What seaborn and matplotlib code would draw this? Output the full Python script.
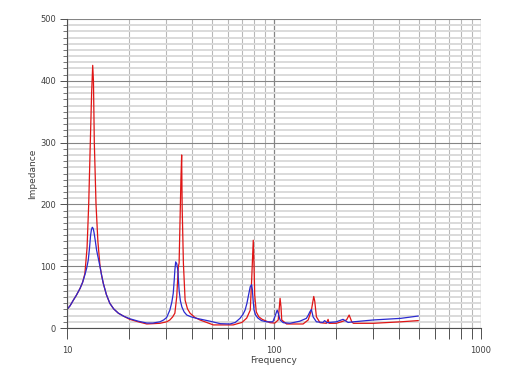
import numpy as np
import pandas as pd
import matplotlib
matplotlib.use("Agg")
import matplotlib.pyplot as plt
from matplotlib.ticker import LogLocator, NullFormatter, FixedLocator, MultipleLocator
import seaborn as sns

# ---- data ----
blue_freq = [10, 10.35, 10.73, 11.1, 11.56, 11.9, 12.2, 12.45, 12.67, 12.85, 13.0, 13.12, 13.25,
             13.38, 13.5, 13.7, 13.9, 14.2, 14.44, 14.7, 14.98, 15.5, 16.1, 16.8, 17.7, 18.8,
             20.1, 22.1, 24.3, 26, 28.1, 29.3, 30.3, 31.4, 32.1, 32.6, 33.0, 33.2, 33.5, 33.9,
             34.3, 34.8, 35.3, 35.9, 36.8, 37.9, 39.8, 42.3, 49.1, 55, 61.3, 65, 68.5, 70.8,
             72.5, 74.0, 75.1, 76.8, 78.0, 78.6, 79.3, 80.1, 81.5, 83.6, 87, 92.2, 98.7,
             100.9, 103.6, 104.8, 107, 110.8, 119.3, 133.2, 143.4, 146.5, 148.9, 151.6, 154.5,
             160.3, 172.4, 175.6, 180.2, 200, 215.5, 228, 241.8, 302, 409, 498]
blue_imp = [30, 36, 45, 53, 64, 74, 86, 97, 110, 130, 150, 159, 163,
            161, 155, 141, 126, 111, 99, 85, 72, 54, 40, 31, 24, 19,
            15, 11, 8, 8, 10, 13, 17, 29, 42, 56, 80, 94, 107, 104,
            94, 61, 44, 34, 26, 21, 18, 15.6, 11, 7, 6.5, 9, 15.6, 22,
            29, 40, 51, 67, 70, 62, 44, 29, 21, 16, 12, 10, 10,
            18, 29, 24, 13, 8.6, 7.6, 11, 15.6, 21, 26, 30, 18,
            10, 9, 12, 8.6, 10, 14, 9, 10, 13, 15.6, 19.4]

red_freq = [10, 10.35, 10.73, 11.1, 11.56, 11.9, 12.2, 12.5, 12.73, 12.96, 13.15, 13.31, 13.42,
            13.55, 13.81, 14.1, 14.44, 14.7, 14.98, 15.5, 16.1, 16.8, 17.7, 18.8, 20.1, 22.1,
            24.3, 28.1, 30.3, 31.4, 32.4, 33.2, 33.9, 34.5, 34.8, 35.3, 35.5, 35.8, 36.0, 36.5,
            37.2, 38.2, 39.3, 41.5, 43.9, 50.9, 63.5, 70, 73.8, 76.8, 78.0, 79.4,
            80.1, 80.7, 82.1, 84.5, 87.7, 95.6, 100.9, 104.8, 107, 108.1, 109, 115, 138.2, 146.3,
            151.6, 155.6, 157.4, 160.3, 166.8, 179, 182.5, 184.4, 200, 211.2, 224, 230.7,
            237.5, 241.8, 302, 409, 498]
red_imp = [30, 36, 45, 53, 64, 74, 88, 130, 200, 300, 380, 425, 400,
           300, 200, 140, 100, 85, 72, 54, 40, 31, 24, 19, 14, 10,
           6.5, 7.6, 10, 13, 18, 24, 51, 99, 105, 200, 239, 280, 196, 105,
           45, 31, 24, 17, 13, 5, 5, 9, 16, 29, 78, 142,
           99, 53, 26, 18, 14, 8.6, 8, 13, 48, 34, 13, 6.5, 6.5, 13,
           29, 51, 43, 18, 8.6, 7.6, 14, 7.6, 7.6, 10, 13, 21,
           10, 7.6, 7.6, 10, 12]

x_ticks = [10, 100, 1000]
x_tick_labels = ["10", "100", "1000"]
y_ticks = [0, 100, 200, 300, 400, 500]

df = pd.concat([
    pd.DataFrame({"Frequency": red_freq, "Impedance": red_imp, "series": "red"}),
    pd.DataFrame({"Frequency": blue_freq, "Impedance": blue_imp, "series": "blue"}),
], ignore_index=True)

sns.set_style("white")
fig = plt.figure(figsize=(5.12, 3.69), dpi=100)
ax = fig.add_axes([67 / 512, 1 - 328 / 369, (481 - 67) / 512, (328 - 19) / 369])

sns.lineplot(data=df, x="Frequency", y="Impedance", hue="series",
             palette={"red": "#e01515", "blue": "#2a2ad0"}, estimator=None, sort=True,
             legend=False, linewidth=0.9, ax=ax)

ax.set_xscale("log")
ax.set_xlim(10, 1000)
ax.set_ylim(0, 500)

ax.xaxis.set_major_locator(FixedLocator(x_ticks))
ax.set_xticklabels(x_tick_labels)
ax.xaxis.set_minor_locator(LogLocator(base=10, subs=np.arange(2, 10)))
ax.xaxis.set_minor_formatter(NullFormatter())
ax.set_yticks(y_ticks)
ax.yaxis.set_minor_locator(MultipleLocator(10))

ax.set_axisbelow(True)
ax.grid(which="minor", axis="y", color="#dadada", linewidth=1.4)
ax.grid(which="major", axis="y", color="#858585", linewidth=0.8)
ax.grid(which="minor", axis="x", color="#b8b8b8", linewidth=0.8)
ax.grid(which="major", axis="x", color="#858585", linewidth=0.9)

for s in ["top", "right"]:
    ax.spines[s].set_visible(False)
for s in ["left", "bottom"]:
    ax.spines[s].set_color("#505050")
    ax.spines[s].set_linewidth(0.8)

ax.tick_params(axis="y", which="major", direction="out", length=5, width=0.7, color="#505050",
               labelsize=6, labelcolor="#404040", pad=3, left=True)
ax.tick_params(axis="y", which="minor", direction="out", length=3, width=0.6, color="#606060", left=True)
ax.tick_params(axis="x", which="both", direction="out", length=8, width=0.7, color="#505050",
               labelsize=6, labelcolor="#404040", pad=5, bottom=True)

ax.set_xlabel("Frequency", fontsize=6.5, color="#404040", labelpad=1)
ax.set_ylabel("Impedance", fontsize=6.5, color="#404040", labelpad=2)

fig.savefig("out.png", dpi=100)
